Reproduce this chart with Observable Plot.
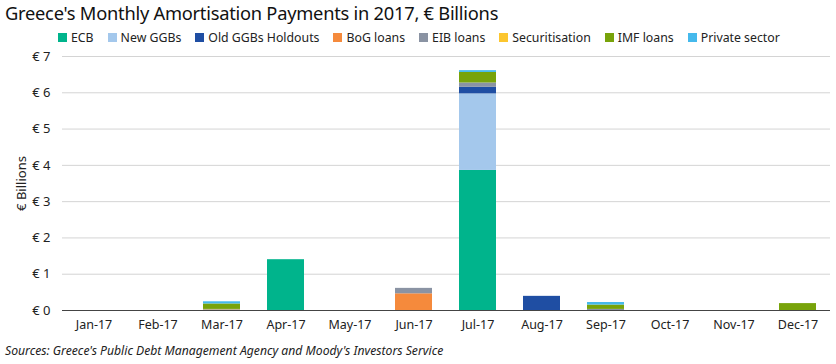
<!DOCTYPE html>
<html>
<head>
<meta charset="utf-8">
<script src="https://cdn.jsdelivr.net/npm/d3@7"></script>
<script src="https://cdn.jsdelivr.net/npm/@observablehq/plot@0.6"></script>
<style>
  body { margin: 0; background: #fff; font-family: "Noto Sans", "Open Sans", sans-serif; width: 836px; height: 364px; overflow: hidden; }
  #title { position: absolute; left: 5px; top: 0px; font-size: 18.3px; color: #111; white-space: nowrap; letter-spacing: -0.25px; }
  #legend { position: absolute; left: 58px; top: 29px; display: flex; font-size: 12.3px; color: #222; white-space: nowrap; }
  #legend .item { display: flex; align-items: center; margin-right: 14px; }
  #legend .sw { width: 9px; height: 9px; margin-right: 4px; }
  #chart { position: absolute; left: 0; top: 48px; }
  #caption { position: absolute; left: 5px; top: 342px; font-size: 12.2px; font-style: italic; color: #222; white-space: nowrap; }
</style>
</head>
<body>
<div id="title">Greece's Monthly Amortisation Payments in 2017, € Billions</div>
<div id="legend"></div>
<div id="chart"></div>
<div id="caption">Sources: Greece's Public Debt Management Agency and Moody's Investors Service</div>
<script>
const months = ["Jan-17","Feb-17","Mar-17","Apr-17","May-17","Jun-17","Jul-17","Aug-17","Sep-17","Oct-17","Nov-17","Dec-17"];
const seriesNames = ["ECB","New GGBs","Old GGBs Holdouts","BoG loans","EIB loans","Securitisation","IMF loans","Private sector"];
const seriesColors = ["#00b48c","#a4c8ec","#1f4ea3","#f58a3c","#8a93a3","#fcc62f","#78a30a","#45b9ec"];
const yTicks = [0,1,2,3,4,5,6,7];

const ecb            = [0,0,0,1.40,0,0,3.86,0,0,0,0,0];
const newGGBs        = [0,0,0,0,0,0,2.11,0,0,0,0,0];
const oldGGBs        = [0,0,0,0,0,0,0.18,0.39,0,0,0,0];
const bogLoans       = [0,0,0,0,0,0.46,0,0,0,0,0,0];
const eibLoans       = [0,0,0.02,0,0,0.15,0.12,0,0.03,0,0,0];
const securitisation = [0,0,0.01,0,0,0,0,0,0,0,0,0];
const imfLoans       = [0,0,0.15,0,0,0,0.29,0,0.12,0,0,0.19];
const privateSector  = [0,0,0.06,0,0,0,0.05,0,0.07,0,0,0];

const seriesValues = [ecb,newGGBs,oldGGBs,bogLoans,eibLoans,securitisation,imfLoans,privateSector];

const data = [];
seriesNames.forEach((s, i) => {
  months.forEach((m, j) => {
    if (seriesValues[i][j] > 0) data.push({month: m, series: s, value: seriesValues[i][j]});
  });
});

// legend
const legend = document.getElementById("legend");
seriesNames.forEach((s, i) => {
  const it = document.createElement("div");
  it.className = "item";
  it.innerHTML = `<span class="sw" style="background:${seriesColors[i]}"></span><span>${s}</span>`;
  legend.appendChild(it);
});

const chart = Plot.plot({
  width: 836,
  height: 292,
  marginLeft: 62,
  marginRight: 6,
  marginTop: 8,
  marginBottom: 30,
  style: {fontFamily: "Noto Sans, Open Sans, sans-serif", fontSize: "12.5px", color: "#222", background: "#fff"},
  x: {domain: months, paddingInner: 0.42, paddingOuter: 0.21, label: null},
  y: {domain: [0, 7], label: null},
  color: {domain: seriesNames, range: seriesColors},
  marks: [
    Plot.gridY(yTicks, {stroke: "#d4d4d4", strokeOpacity: 1}),
    Plot.axisY(yTicks, {tickSize: 0, tickPadding: 12, tickFormat: d => "€ " + d, label: "€ Billions", labelAnchor: "center", labelArrow: "none", labelOffset: 46, fontSize: 13}),
    Plot.axisX({tickSize: 0, tickPadding: 10, label: null, fontSize: 12.5}),
    Plot.barY(data, Plot.stackY({order: seriesNames, x: "month", y: "value", fill: "series"})),
    Plot.ruleY([0], {stroke: "#444", strokeWidth: 1})
  ]
});
document.getElementById("chart").appendChild(chart);
</script>
</body>
</html>
